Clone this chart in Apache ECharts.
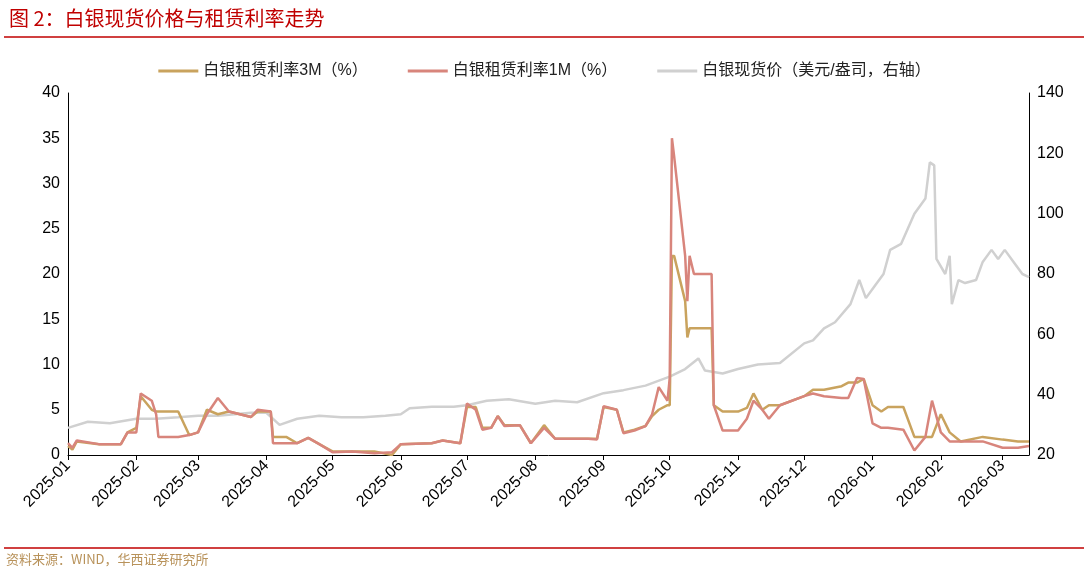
<!DOCTYPE html><html><head><meta charset="utf-8"><script src="https://cdn.jsdelivr.net/npm/echarts@6/dist/echarts.min.js"></script>
<style>body{margin:0}#c{width:1089px;height:577px}</style></head><body><div id="c"></div><script>
const rateDates=['2025-01-01','2025-01-03','2025-01-05','2025-01-15','2025-01-25','2025-01-28','2025-02-01','2025-02-03','2025-02-08','2025-02-10','2025-02-11','2025-02-20','2025-02-25','2025-03-01','2025-03-05','2025-03-10','2025-03-15','2025-03-25','2025-03-28','2025-04-03','2025-04-04','2025-04-10','2025-04-15','2025-04-20','2025-04-25','2025-05-01','2025-05-10','2025-05-20','2025-05-28','2025-06-01','2025-06-15','2025-06-20','2025-06-28','2025-07-01','2025-07-05','2025-07-08','2025-07-12','2025-07-15','2025-07-18','2025-07-25','2025-07-30','2025-08-05','2025-08-10','2025-08-25','2025-08-29','2025-09-01','2025-09-07','2025-09-10','2025-09-15','2025-09-20','2025-09-23','2025-09-26','2025-09-30','2025-10-01','2025-10-02','2025-10-03','2025-10-08','2025-10-09','2025-10-10','2025-10-12','2025-10-20','2025-10-21','2025-10-25','2025-11-01','2025-11-05','2025-11-08','2025-11-12','2025-11-15','2025-11-20','2025-12-01','2025-12-05','2025-12-10','2025-12-18','2025-12-21','2025-12-25','2025-12-28','2026-01-01','2026-01-05','2026-01-08','2026-01-15','2026-01-20','2026-01-25','2026-01-28','2026-02-01','2026-02-05','2026-02-10','2026-02-20','2026-03-01','2026-03-08','2026-03-13'];
const rate3M=[1.0,0.6,1.5,1.2,1.2,2.5,3,6.5,5,4.8,4.8,4.8,2.2,2.5,5,4.5,4.8,4.2,4.8,4.8,2.0,2.0,1.3,1.9,1.2,0.4,0.4,0.4,0.0,1.2,1.3,1.6,1.3,5.3,5.3,3,3,4.3,3.3,3.3,1.3,3.3,1.8,1.8,1.8,5.3,5.0,2.5,2.8,3.2,4.3,5,5.5,5.5,22,22,17,13,14,14,14,5.5,4.8,4.8,5.2,6.8,5,5.5,5.5,6.5,7.2,7.2,7.6,8,8,8.4,5.5,4.8,5.3,5.3,2,2.0,2.0,4.5,2.5,1.5,2.0,1.7,1.5,1.5];
const rate1M=[1.3,0.8,1.6,1.2,1.2,2.5,2.5,6.8,6,4.5,2.0,2.0,2.2,2.5,4.5,6.3,4.8,4.2,5,4.8,1.3,1.3,1.3,1.9,1.2,0.3,0.4,0.2,0.3,1.2,1.3,1.6,1.3,5.7,5.0,2.8,3,4.3,3.2,3.3,1.3,3.0,1.8,1.8,1.7,5.4,5.0,2.4,2.7,3.2,4.5,7.5,6,8.5,35,33,22,17,22,20,20,5.5,2.7,2.7,4,6,5,4,5.5,6.5,6.8,6.5,6.3,6.3,8.5,8.4,3.5,3.0,3.0,2.8,0.5,2.0,6.0,2.5,1.5,1.5,1.5,0.8,0.8,1.0];
const priceDates=['2025-01-01','2025-01-10','2025-01-20','2025-02-01','2025-02-10','2025-02-20','2025-03-01','2025-03-10','2025-03-25','2025-04-01','2025-04-07','2025-04-15','2025-04-25','2025-05-05','2025-05-15','2025-05-25','2025-06-01','2025-06-05','2025-06-15','2025-06-25','2025-07-01','2025-07-10','2025-07-20','2025-08-01','2025-08-10','2025-08-20','2025-09-01','2025-09-10','2025-09-20','2025-10-01','2025-10-08','2025-10-14','2025-10-17','2025-10-25','2025-11-01','2025-11-10','2025-11-20','2025-12-01','2025-12-05','2025-12-10','2025-12-15','2025-12-22','2025-12-26','2025-12-29','2026-01-02','2026-01-06','2026-01-09','2026-01-14','2026-01-20','2026-01-25','2026-01-27','2026-01-29','2026-01-30','2026-02-03','2026-02-05','2026-02-06','2026-02-09','2026-02-12','2026-02-17','2026-02-20','2026-02-24','2026-02-27','2026-03-02','2026-03-06','2026-03-10','2026-03-13'];
const price=[29,31,30.5,32,32,32.5,33,33,34,34,30,32,33,32.5,32.5,33,33.5,35.5,36,36,36.5,38,38.5,37,38,37.5,40.5,41.5,43,46,48.5,52,48,47,48.5,50,50.5,57,58,62,64,70,78,72,76,80,88,90,100,105,117,116,85,80,86,70,78,77,78,84,88,85,88,84,80,79];
const z=(d,v)=>d.map((x,i)=>[x,v[i]]);
const ch=echarts.init(document.getElementById('c'));
const ff='"Liberation Sans","Noto Sans CJK SC",sans-serif';
ch.setOption({
 animation:false,
 title:{text:'图 2：白银现货价格与租赁利率走势',left:4,top:3,textStyle:{color:'#c00000',fontSize:20,fontWeight:'normal',fontFamily:'"Noto Sans CJK SC"'}},
 graphic:[{type:'line',shape:{x1:4,y1:37,x2:1084,y2:37},style:{stroke:'#c00000',lineWidth:1.5}},
  {type:'line',shape:{x1:4,y1:548,x2:1084,y2:548},style:{stroke:'#c00000',lineWidth:1.5}},
  {type:'text',left:6,top:553,style:{text:'资料来源：WIND，华西证券研究所',fill:'#b8925a',fontSize:13,fontFamily:'"Noto Sans CJK SC"'}}],
 legend:{top:58,left:'center',itemGap:40,itemWidth:40,itemHeight:3,textStyle:{fontSize:16,color:'#222',fontFamily:ff},
  data:['白银租赁利率3M（%）','白银租赁利率1M（%）','白银现货价（美元/盎司，右轴）'],icon:'rect'},
 grid:{left:68,right:60,top:93,bottom:122},
 xAxis:{type:'time',min:'2025-01-01',max:'2026-03-13',splitNumber:14,
  axisLine:{lineStyle:{color:'#000'}},axisTick:{show:true,lineStyle:{color:'#000'}},splitLine:{show:false},
  axisLabel:{rotate:45,color:'#000',fontSize:16,fontFamily:ff,formatter:'{yyyy}-{MM}',hideOverlap:false}},
 yAxis:[{type:'value',min:0,max:40,interval:5,axisLine:{show:true,lineStyle:{color:'#000'}},axisTick:{show:false},splitLine:{show:false},axisLabel:{color:'#000',fontSize:16,fontFamily:ff}},
  {type:'value',min:20,max:140,interval:20,axisLine:{show:true,lineStyle:{color:'#000'}},axisTick:{show:false},splitLine:{show:false},axisLabel:{color:'#000',fontSize:16,fontFamily:ff}}],
 series:[
  {name:'白银现货价（美元/盎司，右轴）',type:'line',yAxisIndex:1,showSymbol:false,data:z(priceDates,price),lineStyle:{color:'#d0d0d0',width:2.5},itemStyle:{color:'#d0d0d0'},z:1},
  {name:'白银租赁利率3M（%）',type:'line',showSymbol:false,data:z(rateDates,rate3M),lineStyle:{color:'#c9a35e',width:2.5},itemStyle:{color:'#c9a35e'},z:2},
  {name:'白银租赁利率1M（%）',type:'line',showSymbol:false,data:z(rateDates,rate1M),lineStyle:{color:'#d8857c',width:2.5},itemStyle:{color:'#d8857c'},z:3}
 ]});
</script></body></html>
